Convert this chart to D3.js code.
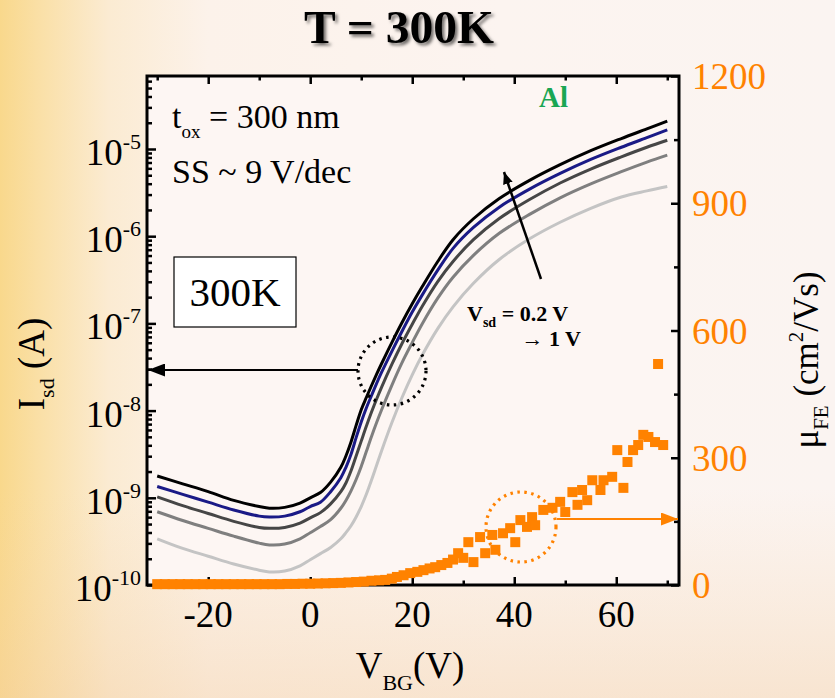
<!DOCTYPE html>
<html>
<head>
<meta charset="utf-8">
<script src="https://cdn.jsdelivr.net/npm/d3@7"></script>
<style>
  html, body { margin: 0; padding: 0; background: #fcf4ef; }
  svg { display: block; }
</style>
</head>
<body>
<svg id="chart" width="835" height="698"></svg>
<script>
// ---- transfer curves: back-gate voltage grid (V) ----
const vbg = [-30, -25, -20, -15, -10, -8, -5, -2, 0, 2, 4, 6, 7, 8, 9, 10, 11, 12, 13, 14,
             16, 18, 20, 22, 25, 28, 32, 37, 43, 49, 55, 61, 66, 70];

// log10(Isd / A) for each source-drain bias
const logIsd_1p0V = [-8.75, -8.84, -8.93, -9.03, -9.10, -9.12, -9.11, -9.06, -9.00, -8.94, -8.82, -8.65, -8.52, -8.36, -8.17, -7.99, -7.85, -7.715, -7.585, -7.46,
                     -7.22, -6.99, -6.775, -6.575, -6.29, -6.04, -5.80, -5.57, -5.36, -5.18, -5.02, -4.88, -4.77, -4.68];
const logIsd_0p8V = [-8.87, -8.96, -9.05, -9.14, -9.21, -9.22, -9.21, -9.16, -9.10, -9.05, -8.93, -8.77, -8.65, -8.50, -8.31, -8.13, -7.97, -7.83, -7.69, -7.56,
                     -7.32, -7.09, -6.87, -6.67, -6.39, -6.14, -5.90, -5.67, -5.46, -5.28, -5.12, -4.98, -4.87, -4.78];
const logIsd_0p6V = [-8.99, -9.09, -9.18, -9.27, -9.34, -9.35, -9.34, -9.29, -9.23, -9.17, -9.07, -8.93, -8.83, -8.69, -8.52, -8.35, -8.18, -8.02, -7.87, -7.73,
                     -7.47, -7.23, -7.01, -6.80, -6.52, -6.29, -6.04, -5.80, -5.58, -5.39, -5.23, -5.09, -4.98, -4.90];
const logIsd_0p4V = [-9.16, -9.26, -9.35, -9.44, -9.52, -9.54, -9.53, -9.47, -9.40, -9.33, -9.25, -9.12, -9.03, -8.92, -8.79, -8.64, -8.47, -8.30, -8.14, -7.99,
                     -7.71, -7.45, -7.22, -7.00, -6.71, -6.47, -6.22, -5.97, -5.75, -5.56, -5.40, -5.26, -5.15, -5.07];
const logIsd_0p2V = [-9.47, -9.58, -9.67, -9.76, -9.83, -9.85, -9.84, -9.78, -9.71, -9.64, -9.57, -9.47, -9.40, -9.32, -9.22, -9.10, -8.96, -8.80, -8.63, -8.46,
                     -8.14, -7.85, -7.59, -7.36, -7.06, -6.81, -6.54, -6.27, -6.03, -5.84, -5.68, -5.55, -5.48, -5.43];

// ---- field-effect mobility ----
const muVbg = [-30, -28.5, -27, -25.5, -24, -22.5, -21, -19.5, -18, -16.5, -15, -13.5, -12, -10.5, -9, -7.5, -6, -4.5, -3, -1.5,
               0, 1.5, 3, 4.5, 6, 7.5, 9, 10.5, 12, 13.5,
               14.7, 16.0, 17, 18.3, 19.6, 21.0, 22.2, 23.4, 24.5, 25.7, 26.9, 28.0, 29.0, 30.0, 31.0, 32.0, 33.3, 34.3, 35.7, 36.3,
               37.8, 39.2, 40.2, 41.2, 42.5, 43.5, 44.1, 45.7, 47.5, 49.0, 50.0, 51.4, 52.4, 53.3, 54.3, 55.3, 56.9, 57.5, 59.2, 60.2,
               61.4, 62.2, 63.3, 64.3, 65.3, 66.3, 67.6, 68.2, 69.2];
const muFE  = [2, 2, 2, 2, 2, 2, 2, 2, 2, 2, 2, 2, 2, 2, 2, 2, 2, 2.5, 2.5, 3,
               3, 3.5, 4, 4.5, 5, 6, 7, 8, 10, 11,
               12, 15, 19, 23, 28, 31, 35, 39, 42, 47, 52, 60, 75, 64, 101, 54, 113, 75, 118, 83,
               122, 134, 101, 153, 137, 160, 141, 177, 182, 196, 172, 219, 189, 224, 200, 247, 224, 247, 255, 318,
               229, 290, 318, 330, 354, 349, 337, 521, 330];

// ---- axis ticks ----
const xMajorTicks = [-20, 0, 20, 40, 60];
const xMinorTicks = [-30, -10, 10, 30, 50, 70];
const yDecades = [-10, -9, -8, -7, -6, -5];
const muMajorTicks = [0, 300, 600, 900, 1200];
const muMinorTicks = [150, 450, 750, 1050];

// sweeps, highest bias first
const sweeps = [
  { vsd: 1.0, values: logIsd_1p0V },
  { vsd: 0.8, values: logIsd_0p8V },
  { vsd: 0.6, values: logIsd_0p6V },
  { vsd: 0.4, values: logIsd_0p4V },
  { vsd: 0.2, values: logIsd_0p2V }
];
const sweepColor = { 1.0: "#000000", 0.8: "#1a1a86", 0.6: "#464646", 0.4: "#7f7f7f", 0.2: "#c4c4c4" };

const ORANGE = "#ff8200";
const SERIF = "'Liberation Serif', 'Times New Roman', Times, serif";

const svg = d3.select("#chart");
const W = 835, H = 698;
const box = { left: 147, right: 679, top: 76, bottom: 585 };

const x = d3.scaleLinear().domain([-32, 72.3]).range([box.left, box.right]);
const y = d3.scaleLog().domain([1e-10, Math.pow(10, -4.163)]).range([box.bottom, box.top]);
const yMu = d3.scaleLinear().domain([0, 1200]).range([box.bottom, box.top]);

// ---- background ----
const defs = svg.append("defs");
const bg = defs.append("linearGradient").attr("id", "bgGrad").attr("x1", 0).attr("x2", 1).attr("y1", 0).attr("y2", 0);
[[0, "#f9d88c"], [0.05, "#fae0a8"], [0.13, "#fbebd2"], [0.25, "#fcf2ea"], [0.6, "#fcf4f0"], [1, "#fbf4f1"]]
  .forEach(([o, c]) => bg.append("stop").attr("offset", o).attr("stop-color", c));
const bgV = defs.append("linearGradient").attr("id", "bgGradV").attr("x1", 0).attr("x2", 0).attr("y1", 0).attr("y2", 1);
[[0, "#ffffff", 0], [0.7, "#f6d6ac", 0], [1, "#f3cda0", 0.4]]
  .forEach(([o, c, a]) => bgV.append("stop").attr("offset", o).attr("stop-color", c).attr("stop-opacity", a));

svg.append("rect").attr("width", W).attr("height", H).attr("fill", "url(#bgGrad)");
svg.append("rect").attr("width", W).attr("height", H).attr("fill", "url(#bgGradV)");

// plot panel
svg.append("rect")
  .attr("x", box.left).attr("y", box.top)
  .attr("width", box.right - box.left).attr("height", box.bottom - box.top)
  .attr("fill", "#fdf6f3");

// title drop shadow
const shadow = defs.append("filter").attr("id", "titleShadow").attr("x", "-10%").attr("y", "-30%").attr("width", "130%").attr("height", "170%");
shadow.append("feDropShadow").attr("dx", 2.5).attr("dy", 2.5).attr("stdDeviation", 1.6)
  .attr("flood-color", "#000").attr("flood-opacity", 0.55);

// arrow heads
function arrowMarker(id, color, w, h) {
  defs.append("marker").attr("id", id)
    .attr("viewBox", `0 0 ${w} ${h}`).attr("refX", w).attr("refY", h / 2)
    .attr("markerUnits", "userSpaceOnUse")
    .attr("markerWidth", w).attr("markerHeight", h)
    .attr("orient", "auto")
    .append("path").attr("d", `M0,0L${w},${h / 2}L0,${h}Z`).attr("fill", color);
}
arrowMarker("headBlack", "#000", 17, 13);
arrowMarker("headBlackSmall", "#000", 12, 10);
arrowMarker("headOrange", ORANGE, 17, 13);

defs.append("clipPath").attr("id", "plotClip").append("rect")
  .attr("x", box.left).attr("y", box.top)
  .attr("width", box.right - box.left).attr("height", box.bottom - box.top);

// ---- title ----
svg.append("text")
  .attr("x", 399).attr("y", 43)
  .attr("text-anchor", "middle")
  .attr("font-family", SERIF).attr("font-weight", "bold").attr("font-size", 46)
  .attr("textLength", 190).attr("lengthAdjust", "spacingAndGlyphs")
  .attr("filter", "url(#titleShadow)")
  .attr("fill", "#000")
  .text("T = 300K");

// ---- transfer curves ----
const line = d3.line()
  .x(d => x(d[0]))
  .y(d => y(Math.pow(10, d[1])))
  .curve(d3.curveCatmullRom.alpha(0.5));

const curves = svg.append("g").attr("clip-path", "url(#plotClip)");
sweeps.slice().reverse().forEach(s => {
  curves.append("path")
    .datum(vbg.map((v, i) => [v, s.values[i]]))
    .attr("d", line)
    .attr("fill", "none")
    .attr("stroke", sweepColor[s.vsd])
    .attr("stroke-width", 3)
    .attr("stroke-linejoin", "round");
});

// ---- frame & ticks ----
function ticksOn(axisGen, transform) {
  const g = svg.append("g").attr("transform", transform).call(axisGen);
  g.select(".domain").remove();
  g.selectAll(".tick line").attr("stroke", "#000").attr("stroke-width", 2.5);
  g.selectAll(".tick text").remove();
  return g;
}
ticksOn(d3.axisBottom(x).tickValues(xMajorTicks).tickSize(-8), `translate(0,${box.bottom})`);
ticksOn(d3.axisBottom(x).tickValues(xMinorTicks).tickSize(-4.5), `translate(0,${box.bottom})`);
ticksOn(d3.axisTop(x).tickValues(xMajorTicks).tickSize(-8), `translate(0,${box.top})`);
ticksOn(d3.axisTop(x).tickValues(xMinorTicks).tickSize(-4.5), `translate(0,${box.top})`);

const decadeVals = yDecades.map(e => Math.pow(10, e));
const minorVals = [];
yDecades.forEach(e => d3.range(2, 10).forEach(m => {
  const v = m * Math.pow(10, e);
  if (v <= y.domain()[1]) minorVals.push(v);
}));
ticksOn(d3.axisLeft(y).tickValues(decadeVals).tickSize(-9), `translate(${box.left},0)`);
ticksOn(d3.axisLeft(y).tickValues(minorVals).tickSize(-5), `translate(${box.left},0)`);

ticksOn(d3.axisRight(yMu).tickValues(muMajorTicks).tickSize(-8), `translate(${box.right},0)`);
ticksOn(d3.axisRight(yMu).tickValues(muMinorTicks).tickSize(-5), `translate(${box.right},0)`);

svg.append("rect")
  .attr("x", box.left).attr("y", box.top)
  .attr("width", box.right - box.left).attr("height", box.bottom - box.top)
  .attr("fill", "none").attr("stroke", "#000").attr("stroke-width", 3);

// ---- tick labels ----
svg.append("g").selectAll("text").data(xMajorTicks).join("text")
  .attr("x", d => x(d)).attr("y", 627)
  .attr("text-anchor", "middle")
  .attr("font-family", SERIF).attr("font-size", 37).attr("fill", "#000")
  .text(d => String(d));

const yLab = svg.append("g").selectAll("text").data(yDecades).join("text")
  .attr("x", 141).attr("y", d => y(Math.pow(10, d)) + 16)
  .attr("text-anchor", "end")
  .attr("font-family", SERIF).attr("font-size", 37).attr("fill", "#000");
yLab.append("tspan").text("10");
yLab.append("tspan").attr("dy", -16).attr("font-size", 22).text(d => String(d));

svg.append("g").selectAll("text").data(muMajorTicks).join("text")
  .attr("x", 692).attr("y", d => yMu(d) + 13)
  .attr("font-family", SERIF).attr("font-size", 37).attr("fill", ORANGE)
  .text(d => String(d));

// ---- axis titles ----
const xt = svg.append("text")
  .attr("x", 410).attr("y", 678)
  .attr("text-anchor", "middle")
  .attr("font-family", SERIF).attr("font-size", 37).attr("fill", "#000");
xt.append("tspan").text("V");
xt.append("tspan").attr("dy", 12).attr("font-size", 22).text("BG");
xt.append("tspan").attr("dy", -12).text("(V)");

const ylt = svg.append("text")
  .attr("transform", "translate(44,364) rotate(-90)")
  .attr("text-anchor", "middle")
  .attr("font-family", SERIF).attr("font-size", 37).attr("fill", "#000");
ylt.append("tspan").text("I");
ylt.append("tspan").attr("dy", 10).attr("font-size", 22).text("sd");
ylt.append("tspan").attr("dy", -10).text(" (A)");

const yrt = svg.append("text")
  .attr("transform", "translate(818,360) rotate(-90)")
  .attr("text-anchor", "middle")
  .attr("font-family", SERIF).attr("font-size", 35).attr("fill", "#000");
yrt.append("tspan").text("\u03bc");
yrt.append("tspan").attr("dy", 10).attr("font-size", 21).text("FE");
yrt.append("tspan").attr("dy", -10).text(" (cm");
yrt.append("tspan").attr("dy", -15).attr("font-size", 21).text("2");
yrt.append("tspan").attr("dy", 15).text("/Vs)");

// ---- annotations ----
const tox = svg.append("text").attr("x", 172).attr("y", 128)
  .attr("font-family", SERIF).attr("font-size", 34).attr("fill", "#000");
tox.append("tspan").text("t");
tox.append("tspan").attr("dy", 10).attr("font-size", 19).text("ox");
tox.append("tspan").attr("dy", -10).text(" = 300 nm");

svg.append("text").attr("x", 172).attr("y", 183)
  .attr("font-family", SERIF).attr("font-size", 34).attr("fill", "#000")
  .text("SS ~ 9 V/dec");

svg.append("text").attr("x", 539).attr("y", 107)
  .attr("font-family", SERIF).attr("font-weight", "bold").attr("font-size", 29)
  .attr("fill", "#1aa653").text("Al");

// temperature tag
svg.append("rect").attr("x", 174).attr("y", 257).attr("width", 122).attr("height", 70)
  .attr("fill", "#fff").attr("stroke", "#000").attr("stroke-width", 1.2);
svg.append("text").attr("x", 235).attr("y", 306).attr("text-anchor", "middle")
  .attr("font-family", SERIF).attr("font-size", 41).attr("fill", "#000").text("300K");

// current branch: dotted ring and arrow to left axis
svg.append("circle").attr("cx", 392).attr("cy", 371).attr("r", 34)
  .attr("fill", "none").attr("stroke", "#000").attr("stroke-width", 3.2)
  .attr("stroke-dasharray", "2.5 4.5");
svg.append("line").attr("x1", 358).attr("y1", 370).attr("x2", box.left + 1).attr("y2", 370)
  .attr("stroke", "#000").attr("stroke-width", 2).attr("marker-end", "url(#headBlack)");

// mobility branch: dotted ring and arrow to right axis
svg.append("circle").attr("cx", 521).attr("cy", 527).attr("r", 35)
  .attr("fill", "none").attr("stroke", ORANGE).attr("stroke-width", 3.2)
  .attr("stroke-dasharray", "2.5 4.5");
svg.append("line").attr("x1", 557).attr("y1", 519).attr("x2", box.right - 1).attr("y2", 519)
  .attr("stroke", ORANGE).attr("stroke-width", 2).attr("marker-end", "url(#headOrange)");

// bias sweep direction
svg.append("line").attr("x1", 541).attr("y1", 279).attr("x2", 504).attr("y2", 172)
  .attr("stroke", "#000").attr("stroke-width", 2.5).attr("marker-end", "url(#headBlackSmall)");

const vsd1 = svg.append("text").attr("x", 467).attr("y", 321)
  .attr("font-family", SERIF).attr("font-weight", "bold").attr("font-size", 22).attr("fill", "#000");
vsd1.append("tspan").text("V");
vsd1.append("tspan").attr("dy", 6).attr("font-size", 14).text("sd");
vsd1.append("tspan").attr("dy", -6).text(" = 0.2 V");
svg.append("text").attr("x", 581).attr("y", 346).attr("text-anchor", "end")
  .attr("font-family", SERIF).attr("font-weight", "bold").attr("font-size", 22).attr("fill", "#000")
  .text("\u2192 1 V");

// ---- mobility squares ----
const sq = 10;
svg.append("g").selectAll("rect").data(muVbg.map((v, i) => [v, muFE[i]])).join("rect")
  .attr("x", d => x(d[0]) - sq / 2)
  .attr("y", d => yMu(d[1]) - sq / 2)
  .attr("width", sq).attr("height", sq)
  .attr("fill", ORANGE);
</script>
</body>
</html>
